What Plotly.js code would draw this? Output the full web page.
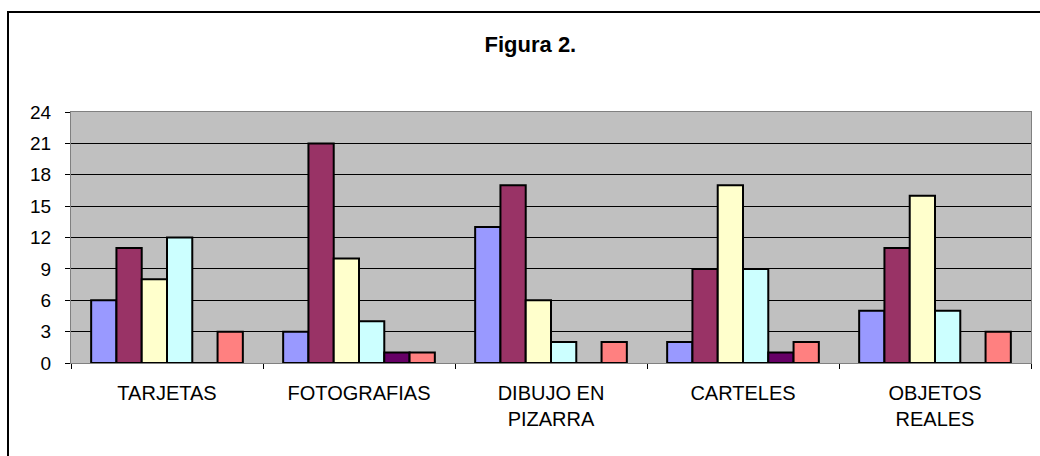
<!DOCTYPE html>
<html>
<head>
<meta charset="utf-8">
<script src="https://cdn.plot.ly/plotly-3.0.1.min.js"></script>
<style>
  html, body { margin: 0; padding: 0; background: #fff; }
  #chart { width: 1040px; height: 456px; }
</style>
</head>
<body>
<div id="chart"></div>
<script>
const categories = ["TARJETAS", "FOTOGRAFIAS", "DIBUJO EN<br>PIZARRA", "CARTELES", "OBJETOS<br>REALES"];
const seriesA = [6, 3, 13, 2, 5];
const seriesB = [11, 21, 17, 9, 11];
const seriesC = [8, 10, 6, 17, 16];
const seriesD = [12, 4, 2, 9, 5];
const seriesE = [0, 1, 0, 1, 0];
const seriesF = [3, 1, 2, 2, 3];
const yTicks = [0, 3, 6, 9, 12, 15, 18, 21, 24];

const colors = ["#9999FF", "#993366", "#FFFFCC", "#CCFFFF", "#660066", "#FF8080"];
const allSeries = [seriesA, seriesB, seriesC, seriesD, seriesE, seriesF];

const traces = allSeries.map((vals, i) => ({
  type: "bar",
  x: categories,
  y: vals,
  marker: { color: colors[i], line: { color: "#000000", width: 2 } },
  hoverinfo: "y"
}));

const font = "Liberation Sans, Arial, sans-serif";

const layout = {
  width: 1040,
  height: 456,
  margin: { l: 71, r: 9, t: 112, b: 93 },
  paper_bgcolor: "#ffffff",
  plot_bgcolor: "#C0C0C0",
  showlegend: false,
  barmode: "group",
  bargap: 0.21,
  bargroupgap: 0,
  font: { family: font, size: 19, color: "#000000" },
  title: {
    text: "<b>Figura 2.</b>",
    font: { family: font, size: 22, color: "#000000" },
    xref: "container", yref: "container",
    x: 0.51, xanchor: "center",
    y: 1 - 44 / 456, yanchor: "middle"
  },
  xaxis: {
    type: "category",
    tickson: "boundaries",
    ticks: "outside",
    ticklen: 5,
    tickcolor: "#000000",
    tickwidth: 1,
    showgrid: false,
    showline: true,
    linecolor: "#808080",
    linewidth: 1,
    mirror: true,
    ticklabelstandoff: 12,
    tickfont: { family: font, size: 20, color: "#000000" }
  },
  yaxis: {
    range: [0, 24],
    tickvals: yTicks,
    ticktext: yTicks.map(String),
    ticks: "outside",
    ticklen: 5,
    tickcolor: "#000000",
    showgrid: true,
    gridcolor: "#000000",
    gridwidth: 1,
    zeroline: true,
    zerolinecolor: "#000000",
    zerolinewidth: 1,
    showline: true,
    linecolor: "#808080",
    linewidth: 1,
    mirror: true,
    ticklabelstandoff: 10,
    tickfont: { family: font, size: 19, color: "#000000" },
    fixedrange: true
  },
  shapes: [{
    type: "rect",
    xref: "paper", yref: "paper",
    x0: (8 - 71) / 960, x1: (1050 - 71) / 960,
    y0: (363 - 470) / 251, y1: (363 - 12) / 251,
    line: { color: "#000000", width: 2 },
    fillcolor: "rgba(0,0,0,0)",
    layer: "below"
  }]
};

Plotly.newPlot("chart", traces, layout, { displayModeBar: false, staticPlot: true });
</script>
</body>
</html>
